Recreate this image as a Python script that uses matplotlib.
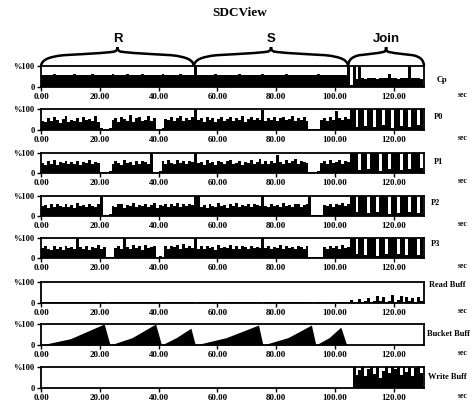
import matplotlib
matplotlib.use("Agg")
import matplotlib.pyplot as plt
from matplotlib.path import Path
from matplotlib.patches import PathPatch
import numpy as np

# ---------------- data (percent, one value per second, 0..130 s) ----------------
cp = ([58, 57, 59, 58, 60, 57, 58, 59, 57, 58,
       58, 60, 57, 58, 59, 58, 57, 60, 58, 57,
       59, 58, 57, 58, 60, 58, 57, 59, 58, 62,
       58, 57, 59, 58, 60, 57, 58, 59, 57, 58,
       58, 60, 57, 58, 59, 58, 57, 60, 58, 57,
       58, 57]
      + [100]
      + [57, 58, 56, 59, 57, 58, 60, 57, 56, 58,
         59, 57, 58, 57, 60, 58, 56, 57, 59, 58,
         57, 58, 60, 57, 58, 56, 59, 58, 57, 58,
         60, 57, 58, 59, 56, 58, 57, 59, 58, 57,
         58, 60, 57, 58, 59, 56, 58, 57, 59, 58, 57]
      + [100, 8, 100, 38, 100]
      + [42, 40, 44, 41, 43, 40, 42, 45, 43, 60, 41,
         42, 40, 44, 43, 42, 100, 41, 43, 42, 40, 44])

p0 = ([45, 38, 55, 42, 60, 48, 35, 52, 66, 40,
       50, 44, 58, 36, 62, 47, 53, 41, 68, 39]
      + [8, 4, 6, 10]
      + [48, 57, 40, 63, 52, 45, 70, 38, 55, 61, 44, 50, 66, 42, 58]
      + [6, 3, 8]
      + [52, 46, 60, 41, 55, 68, 44, 57, 50, 62]
      + [100]
      + [47, 55, 40, 62, 49, 58, 36, 53, 64, 45, 51, 60, 42, 56, 48, 66,
         39, 54, 61, 46, 57, 50]
      + [95]
      + [44, 58, 49, 63, 41, 55, 60, 47, 52, 66, 43, 57, 50, 61, 45]
      + [5, 3, 4, 7]
      + [50, 58, 45, 62, 48]
      + [90]
      + [55, 47, 60, 52]
      + [100, 100, 15, 100, 100, 20, 100, 100, 12, 100, 100, 25, 100,
         100, 10, 100, 100, 18, 100, 100, 14, 100, 100, 22, 100, 100])

p1 = ([50, 42, 58, 46, 63, 40, 55, 48, 61, 44,
       53, 47, 60, 39, 56, 51, 65, 43, 57, 49]
      + [6, 3, 5, 9]
      + [45, 60, 52, 38, 66, 49, 55, 42, 61, 47, 58, 53, 44]
      + [100]
      + [5, 4, 8]
      + [58, 47, 63, 52, 44, 67, 50, 59, 45, 62, 55]
      + [100]
      + [48, 57, 42, 63, 50, 55, 39, 61, 53, 46, 58, 66, 44, 52, 60, 41,
         57, 49, 63, 45, 54, 68, 47, 59, 43, 62, 51]
      + [92]
      + [55, 46, 64, 50, 58, 70, 44, 61, 53, 48]
      + [6, 4, 3, 8]
      + [52, 60, 45, 63, 49, 57, 66, 43, 58, 54]
      + [100, 100, 100, 15, 100, 100, 20, 100, 100, 100, 12, 100, 100,
         22, 100, 100, 100, 15, 100, 100, 18, 100, 100, 100, 25, 100])

p2 = ([48, 55, 40, 62, 45, 58, 51, 43, 60, 47,
       54, 41, 63, 49, 57, 44, 59, 52, 46, 61]
      + [100]
      + [7, 4, 9]
      + [50, 44, 58, 62, 41, 55, 48, 66, 43, 57, 51, 60, 46, 53, 64, 40,
         56, 49, 61, 45, 58, 52, 67, 43, 59, 48, 62, 54]
      + [100, 100]
      + [47, 56, 42, 60, 51, 45, 63, 49, 55, 41, 58, 52, 66, 44, 57, 50,
         61, 46, 59, 53, 48]
      + [100]
      + [52, 45, 61, 48, 57, 43, 64, 50, 55, 46, 59, 62, 44, 53, 58]
      + [100]
      + [5, 3, 4, 6]
      + [56, 49, 62, 45, 58, 53, 67, 48, 60]
      + [100, 100, 18, 100, 100, 100, 14, 100, 100, 22, 100, 100, 100,
         10, 100, 100, 17, 100, 100, 100, 20, 100, 100, 15, 100, 100])

p3 = ([52, 60, 45, 40, 58, 47, 55, 42, 61, 49, 56, 44]
      + [100]
      + [53, 47, 62, 41, 57, 50, 64, 45, 55]
      + [6, 3, 5]
      + [48, 58, 44]
      + [100]
      + [55, 46, 63, 50, 58, 42, 66, 49, 57, 61]
      + [5, 8, 4]
      + [60, 47, 58, 53, 65, 45, 70, 52, 59, 48]
      + [100]
      + [46, 58, 43, 61, 50, 55, 41, 63, 48, 57, 52, 66, 44, 59, 47, 62,
         53, 45, 60, 49, 56, 51]
      + [100]
      + [48, 61, 45, 57, 52, 64, 43, 58, 50, 55, 47, 62, 53, 46, 59]
      + [6, 4, 3, 5, 7]
      + [54, 47, 61, 50, 58, 45, 63, 52, 57]
      + [100, 100, 20, 100, 100, 15, 100, 100, 100, 12, 100, 100, 18,
         100, 100, 100, 22, 100, 100, 14, 100, 100, 100, 16, 100, 100])

read_buff = ([3] * 22 + [0] + [3] * 17 + [0] + [3] * 11 + [0] + [3] * 22
             + [0] + [3] * 16 + [0] + [3] * 12
             + [12, 4, 6, 20, 5, 8, 25, 6, 10, 35, 8, 30, 6, 10, 40, 7,
                12, 35, 6, 30, 8, 25, 7, 30, 10, 45])

# bucket buffer: ramp vertices (time s, percent)
bucket_t = [0, 10, 21.5, 23.5, 31, 39, 41, 46, 51, 52.5, 63, 74,
            75.5, 84, 92, 93.5, 98, 102, 104, 130.5]
bucket_v = [0, 30, 100, 0, 35, 100, 0, 35, 80, 0, 35, 95,
            0, 35, 95, 0, 35, 85, 0, 0]

write_buff = ([0] * 106
              + [100, 60, 85, 100, 55, 90, 100, 65, 100, 50, 80, 100, 70,
                 100, 90, 100, 60, 100, 75, 100, 55, 95, 100, 70, 100])

panel_names = ["Cp", "P0", "P1", "P2", "P3", "Read Buff", "Bucket Buff", "Write Buff"]
phase_names = ["R", "S", "Join"]
phase_edges = [0, 52, 104.5, 130.3]
xticks = [0, 20, 40, 60, 80, 100, 120]

# ---------------- layout ----------------
W, H = 476, 407
fig = plt.figure(figsize=(W / 100, H / 100), dpi=100)
SERIF = "Liberation Serif"
SANS = "Liberation Sans"

XL, XR = 41, 424
tops = [66, 109, 153, 196, 238, 282, 324, 367]
bots = [87, 130, 173, 216, 258, 303, 345, 388]
label_pos = [(437, 80), (434, 117), (434, 162), (431, 203), (431, 244),
             (429, 285), (427, 334), (428, 377)]

def fx(px):
    return px / W

def fy(py):
    return 1 - py / H

series = [cp, p0, p1, p2, p3, read_buff, None, write_buff]
XMAX = 130.3

for i, name in enumerate(panel_names):
    t, b = tops[i], bots[i]
    ax = fig.add_axes([fx(XL), fy(b), fx(XR - XL), (b - t) / H])
    if name == "Bucket Buff":
        ax.fill_between(bucket_t, bucket_v, color="black", lw=0)
    else:
        vals = series[i]
        x = np.arange(len(vals))
        ax.fill_between(x, vals, step="post", color="black", lw=0)
    ax.set_xlim(0, XMAX)
    ax.set_ylim(0, 100)
    for s in ax.spines.values():
        s.set_linewidth(1.3)
        s.set_color("black")
    ax.set_yticks([0, 100])
    ax.set_yticklabels(["0", "%100"], fontfamily=SERIF, fontweight="bold", fontsize=6)
    ax.set_xticks(xticks)
    ax.set_xticklabels([f"{v:.2f}" for v in xticks], fontfamily=SERIF,
                       fontweight="bold", fontsize=6.5)
    ax.tick_params(axis="both", length=3, width=1, pad=1.5, color="black")
    lx, ly = label_pos[i]
    fig.text(fx(lx), fy(ly), name, fontfamily=SERIF, fontweight="bold",
             fontsize=6, ha="left", va="center")
    fig.text(fx(463), fy(b + 8), "sec", fontfamily=SERIF, fontweight="bold",
             fontsize=5.5, ha="center", va="center")

# ---------------- braces above Cp ----------------
bax = fig.add_axes([fx(XL), fy(66), fx(XR - XL), (66 - 47) / H])
bax.set_xlim(0, XMAX)
bax.set_ylim(0, 1)
bax.axis("off")

for k in range(3):
    a, b = phase_edges[k], phase_edges[k + 1]
    c = (a + b) / 2
    w = b - a
    verts = [(a, 0),
             (a + 0.005 * w, 0.30), (a + 0.04 * w, 0.48), (a + 0.15 * w, 0.57),
             (a + 0.30 * w, 0.64), (c - 0.08 * w, 0.68), (c - 0.02 * w, 0.76),
             (c - 0.005 * w, 0.80), (c, 0.88), (c, 1.0),
             (c, 0.88), (c + 0.005 * w, 0.80), (c + 0.02 * w, 0.76),
             (c + 0.08 * w, 0.68), (b - 0.30 * w, 0.64), (b - 0.15 * w, 0.57),
             (b - 0.04 * w, 0.48), (b - 0.005 * w, 0.30), (b, 0)]
    codes = [Path.MOVETO] + [Path.CURVE4] * 18
    bax.add_patch(PathPatch(Path(verts, codes), fill=False, lw=1.8,
                            edgecolor="black", clip_on=False))
    fig.text(fx(XL + c * (XR - XL) / XMAX), fy(39), phase_names[k],
             fontfamily=SANS, fontweight="bold", fontsize=9.5,
             ha="center", va="center")

fig.text(fx(240), fy(13), "SDCView", fontfamily=SERIF, fontweight="bold",
         fontsize=9.5, ha="center", va="center")

fig.savefig("out.png", dpi=100, facecolor="white")
